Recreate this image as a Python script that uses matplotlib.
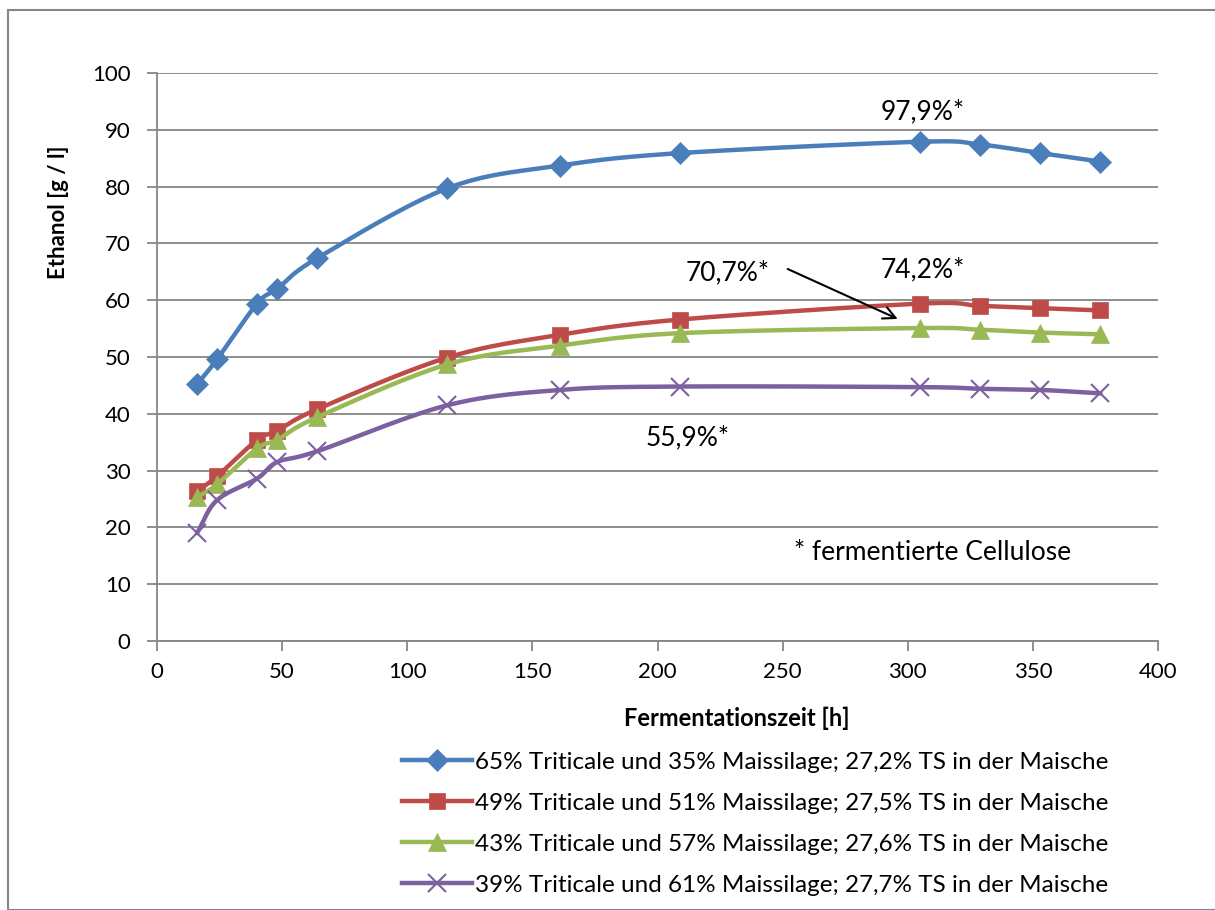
import numpy as np
import matplotlib
matplotlib.use('Agg')
from matplotlib import pyplot as plt
from matplotlib.patches import Rectangle

plt.rcParams['font.family'] = ['Lato', 'DejaVu Sans']

# Fermentationszeit [h]
hours = [16, 24, 40, 48, 64, 116, 161, 209, 305, 329, 353, 377]

# Ethanol [g / l]
ethanol_65 = [45.2, 49.6, 59.4, 62.0, 67.4, 79.7, 83.7, 85.9, 87.9, 87.4, 85.9, 84.4]
ethanol_49 = [26.4, 29.0, 35.4, 37.0, 40.8, 49.9, 53.9, 56.6, 59.4, 59.0, 58.6, 58.2]
ethanol_43 = [25.3, 27.6, 33.9, 35.4, 39.4, 48.7, 52.0, 54.2, 55.1, 54.8, 54.3, 54.0]
ethanol_39 = [19.0, 24.8, 28.6, 31.5, 33.4, 41.5, 44.2, 44.8, 44.7, 44.4, 44.2, 43.6]

labels = [
    '65% Triticale und 35% Maissilage; 27,2% TS in der Maische',
    '49% Triticale und 51% Maissilage; 27,5% TS in der Maische',
    '43% Triticale und 57% Maissilage; 27,6% TS in der Maische',
    '39% Triticale und 61% Maissilage; 27,7% TS in der Maische',
]
colors = ['#4A7EBB', '#BE4B48', '#98B954', '#7D60A0']
markers = ['D', 's', '^', 'x']
msizes = [11, 12, 13, 13]


def smooth(x, y, n=30):
    # catmull-rom like excel "smoothed line"
    x = np.asarray(x, float)
    y = np.asarray(y, float)
    px = np.concatenate([[2 * x[0] - x[1]], x, [2 * x[-1] - x[-2]]])
    py = np.concatenate([[2 * y[0] - y[1]], y, [2 * y[-1] - y[-2]]])
    t = np.linspace(0, 1, n)
    xs, ys = [], []
    for i in range(1, len(px) - 2):
        for p, out in ((px, xs), (py, ys)):
            p0, p1, p2, p3 = p[i - 1], p[i], p[i + 1], p[i + 2]
            out.extend(0.5 * ((2 * p1) + (-p0 + p2) * t
                              + (2 * p0 - 5 * p1 + 4 * p2 - p3) * t ** 2
                              + (-p0 + 3 * p1 - 3 * p2 + p3) * t ** 3))
    return xs, ys


fig = plt.figure(figsize=(12.15, 9.1), dpi=100)
fig.patches.append(Rectangle((8 / 1215, 0), 1.2, 1 - 10 / 910, transform=fig.transFigure,
                             fill=False, edgecolor='#868686', linewidth=1.5))
ax = fig.add_axes([157 / 1215, 1 - 641 / 910, 1001 / 1215, 568 / 910])

series = [ethanol_65, ethanol_49, ethanol_43, ethanol_39]
for vals, lab, c, m, ms in zip(series, labels, colors, markers, msizes):
    sx, sy = smooth(hours, vals)
    ax.plot(sx, sy, color=c, linewidth=3.2, solid_capstyle='round')
    ax.plot(hours, vals, linestyle='none', marker=m, color=c, markersize=ms,
            markeredgewidth=1.5 if m == 'x' else 0.5)
    ax.plot([], [], color=c, linewidth=3.2, marker=m, markersize=ms,
            markeredgewidth=1.5 if m == 'x' else 0.5, label=lab)

ax.set_xlim(0, 400)
ax.set_ylim(0, 100)
ax.set_xticks(range(0, 401, 50))
ax.set_yticks(range(0, 101, 10))
ax.yaxis.grid(True, color='#868686', linewidth=1.3)
ax.set_axisbelow(True)
for s in ['top', 'right']:
    ax.spines[s].set_visible(False)
for s in ['left', 'bottom']:
    ax.spines[s].set_color('#868686')
    ax.spines[s].set_linewidth(1.3)
ax.tick_params(colors='#868686', labelcolor='black', labelsize=16, length=7, width=1.3)
ax.tick_params(axis='y', pad=12)
ax.tick_params(axis='x', pad=8)

# axis titles sit off-centre in the original
ax.set_ylabel('Ethanol [g / l]', fontsize=16, fontweight='bold')
ax.yaxis.set_label_coords(-0.088, 0.755)
ax.set_xlabel('Fermentationszeit [h]', fontsize=17, fontweight='bold')
ax.xaxis.set_label_coords(0.579, -0.115)

ax.text(306, 93.1, '97,9%*', fontsize=19, ha='center', va='center')
ax.text(228, 64.8, '70,7%*', fontsize=19, ha='center', va='center')
ax.text(306, 65.3, '74,2%*', fontsize=19, ha='center', va='center')
ax.text(212, 35.7, '55,9%*', fontsize=19, ha='center', va='center')
ax.text(310, 15.5, '* fermentierte Cellulose', fontsize=19, ha='center', va='center')
ax.annotate('', xy=(297, 56.5), xytext=(251, 65.7),
            arrowprops=dict(arrowstyle='->', color='black', lw=1.5, mutation_scale=22))

fig.legend(loc='upper left', bbox_to_anchor=(392 / 1215, 1 - 742 / 910), frameon=False,
           fontsize=17.5, handlelength=2.9, handletextpad=0.1, labelspacing=0.82,
           borderaxespad=0)

fig.savefig('out.png', dpi=100)
